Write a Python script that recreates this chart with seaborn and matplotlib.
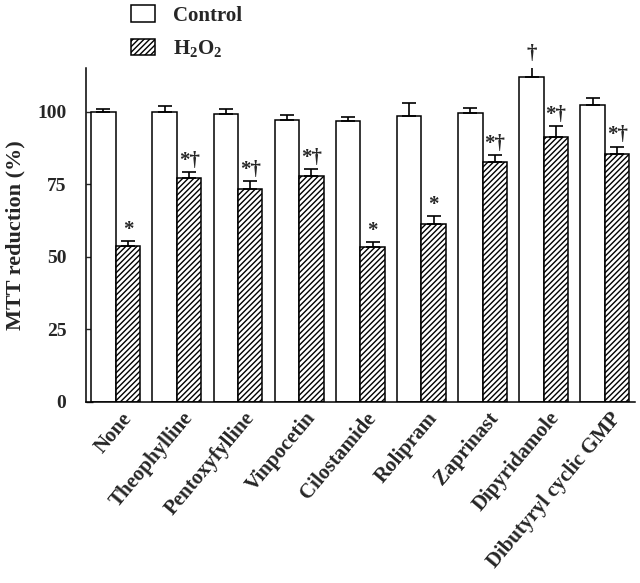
import matplotlib
matplotlib.use("Agg")
import matplotlib.pyplot as plt
import matplotlib.transforms as mtransforms
from matplotlib.patches import Patch
import seaborn as sns
import pandas as pd

# values
treatments = ["None", "Theophylline", "Pentoxyfylline", "Vinpocetin", "Cilostamide",
              "Rolipram", "Zaprinast", "Dipyridamole", "Dibutyryl cyclic GMP"]
control = [100.0, 99.8, 99.2, 97.1, 96.8, 98.4, 99.6, 112.1, 102.4]
control_err = [1.0, 2.3, 1.8, 1.8, 1.3, 4.6, 1.8, 4.0, 2.2]
h2o2 = [53.8, 77.0, 73.3, 77.9, 53.2, 61.3, 82.7, 91.4, 85.4]
h2o2_err = [1.7, 2.2, 2.7, 2.2, 1.8, 2.6, 2.3, 3.6, 2.6]
control_marks = ["", "", "", "", "", "", "", "\u2020", ""]
h2o2_marks = ["*", "*\u2020", "*\u2020", "*\u2020", "*", "*", "*\u2020", "*\u2020", "*\u2020"]
groups = ["Control", "H2O2"]

sns.set_theme(style="white")
plt.rcParams["font.family"] = ["Liberation Serif", "DejaVu Serif"]
plt.rcParams["font.weight"] = "bold"
plt.rcParams["mathtext.fontset"] = "custom"
plt.rcParams["mathtext.rm"] = "Liberation Serif:bold"
plt.rcParams["mathtext.it"] = "Liberation Serif:bold"
plt.rcParams["mathtext.bf"] = "Liberation Serif:bold"
plt.rcParams["hatch.linewidth"] = 1.0

df = pd.DataFrame({
    "treatment": treatments * 2,
    "group": [groups[0]] * len(treatments) + [groups[1]] * len(treatments),
    "value": control + h2o2,
})

fig = plt.figure(figsize=(6.4, 5.83), dpi=100)
ax = fig.add_axes([0.134, 0.311, 0.858, 0.572])

sns.barplot(data=df, x="treatment", y="value", hue="group", order=treatments,
            hue_order=groups, errorbar=None, width=0.8, ax=ax,
            palette=["white", "white"], edgecolor="black", linewidth=1.1, legend=False)

errs = [control_err, h2o2_err]
marks = [control_marks, h2o2_marks]
bar_conts = list(ax.containers)[:2]
for k, cont in enumerate(bar_conts):
    bars = [b for b in cont]
    xs = [b.get_x() + b.get_width() / 2 for b in bars]
    tops = [b.get_height() for b in bars]
    if k == 1:
        for b in bars:
            b.set_hatch("//////")
    ax.errorbar(xs, tops, yerr=[[0] * len(xs), errs[k]], fmt="none",
                ecolor="black", elinewidth=1.2, capsize=5, capthick=1.2, zorder=3)
    for x, t, e, m in zip(xs, tops, errs[k], marks[k]):
        if m:
            ax.text(x, t + e + 0.4, m, ha="center", va="bottom",
                    fontsize=15, fontweight="bold")

ax.set_xlim(-0.49, 8.49)
ax.set_ylim(0, 115)
ax.set_yticks([0, 25, 50, 75, 100])
ax.set_xlabel("")
ax.set_ylabel("MTT reduction (%)", fontsize=16, fontweight="bold", labelpad=8)
ax.tick_params(axis="y", direction="in", length=5, width=1, labelsize=14, pad=14, left=True)
ax.tick_params(axis="x", length=0, labelsize=15, pad=2)
for s in ["top", "right"]:
    ax.spines[s].set_visible(False)
for s in ["left", "bottom"]:
    ax.spines[s].set_color("black")
    ax.spines[s].set_linewidth(1.1)

offset = mtransforms.ScaledTranslation(0.05, -0.04, fig.dpi_scale_trans)
for lab in ax.get_xticklabels():
    lab.set_rotation(50)
    lab.set_ha("right")
    lab.set_va("top")
    lab.set_rotation_mode("anchor")
    lab.set_fontweight("bold")
    lab.set_transform(lab.get_transform() + offset)
for lab in ax.get_yticklabels():
    lab.set_fontweight("bold")

handles = [Patch(facecolor="white", edgecolor="black", linewidth=1.1),
           Patch(facecolor="white", edgecolor="black", linewidth=1.1, hatch="//////")]
fig.legend(handles, ["Control", r"H$_2$O$_2$"], loc="upper left",
           bbox_to_anchor=(131 / 640, 1 - 5 / 583), frameon=False,
           borderpad=0, borderaxespad=0,
           handlelength=1.15, handleheight=0.85, labelspacing=0.6, handletextpad=0.87,
           prop={"weight": "bold", "size": 15})

fig.savefig("out.png", dpi=100)
